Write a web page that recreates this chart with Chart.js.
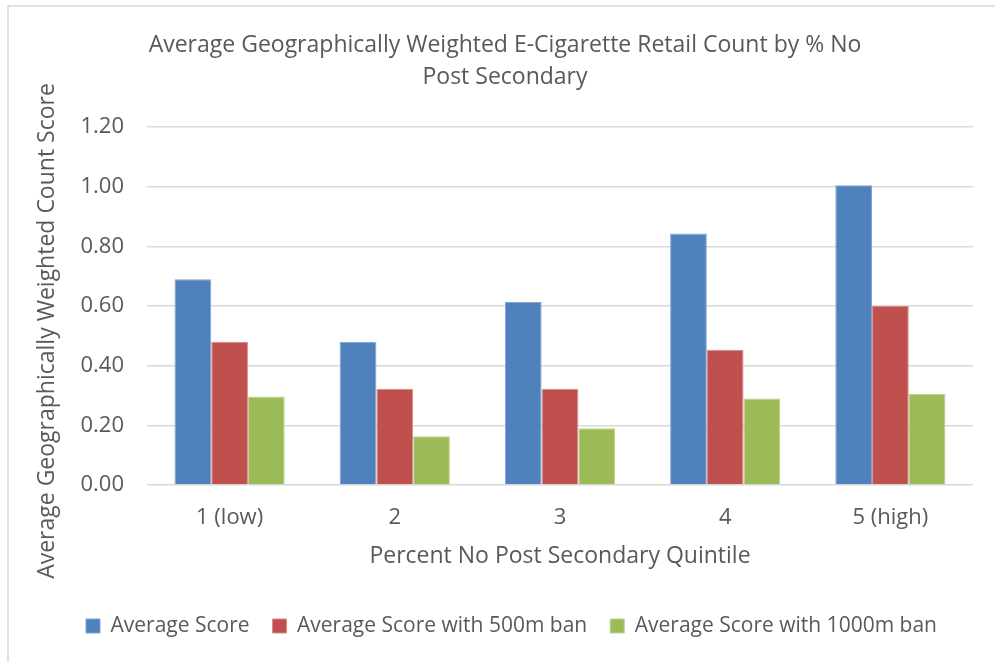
<!DOCTYPE html>
<html>
<head>
<meta charset="utf-8">
<script src="https://cdn.jsdelivr.net/npm/chart.js@4"></script>
<style>
  html, body { margin: 0; padding: 0; background: #ffffff; }
  #wrap { width: 995px; height: 662px; position: relative; }
</style>
</head>
<body>
<div id="wrap"><canvas id="c" width="995" height="662"></canvas></div>
<script>
const chartTitle = ["Average Geographically Weighted E-Cigarette Retail Count by % No", "Post Secondary"];
const yAxisTitle = "Average Geographically Weighted Count Score";
const xAxisTitle = "Percent No Post Secondary Quintile";
const categories = ["1 (low)", "2", "3", "4", "5 (high)"];
const seriesNames = ["Average Score", "Average Score with 500m ban", "Average Score with 1000m ban"];
const averageScore = [0.69, 0.48, 0.613, 0.843, 1.005];
const score500m = [0.48, 0.323, 0.323, 0.453, 0.60];
const score1000m = [0.297, 0.163, 0.19, 0.29, 0.305];
const yTicks = [0, 0.2, 0.4, 0.6, 0.8, 1.0, 1.2];

const TEXT = '#595959';
const FONT = "'Open Sans', 'DejaVu Sans', sans-serif";
const LEGEND_SIZE = 21;
const LEGEND_PAD = 23;

const decor = {
  id: 'decor',
  afterLayout(chart) {
    const lg = chart.legend;
    if (!lg || !lg.lineWidths) return;
    // horizontal: first legend box at x = 86
    const x0 = (lg.left + LEGEND_PAD + lg.right - lg.lineWidths[0]) / 2;
    const dx = 86 - x0;
    lg.left += dx; lg.right += dx;
    // vertical: legend items centred at y = 626
    const itemH = LEGEND_SIZE;
    const newTop = 626 - LEGEND_PAD - itemH / 2;
    const dy = newTop - lg.top;
    lg.top += dy; lg.bottom += dy;
  },
  beforeDraw(chart) {
    const ctx = chart.ctx;
    ctx.save();
    ctx.fillStyle = '#ffffff';
    ctx.fillRect(0, 0, chart.width, chart.height);
    ctx.strokeStyle = '#d9d9d9';
    ctx.lineWidth = 1.5;
    ctx.strokeRect(8, 6, 1200, 1200);
    ctx.restore();
  },
  afterDraw(chart) {
    const ctx = chart.ctx;
    const area = chart.chartArea;
    ctx.save();
    ctx.fillStyle = TEXT;
    ctx.font = "23px " + FONT;
    ctx.textAlign = 'center';
    ctx.textBaseline = 'middle';
    ctx.fillText(chartTitle[0], 505, 45);
    ctx.fillText(chartTitle[1], 505, 77);
    ctx.fillText(xAxisTitle, (area.left + area.right) / 2, 556);
    ctx.translate(47, 331);
    ctx.rotate(-Math.PI / 2);
    ctx.fillText(yAxisTitle, 0, 0);
    ctx.restore();
  }
};

new Chart(document.getElementById('c'), {
  type: 'bar',
  data: {
    labels: categories,
    datasets: [
      { label: seriesNames[0], data: averageScore, backgroundColor: '#4F81BD', borderColor: '#7FA3D2', borderWidth: 1 },
      { label: seriesNames[1], data: score500m, backgroundColor: '#C0504D', borderColor: '#D98A88', borderWidth: 1 },
      { label: seriesNames[2], data: score1000m, backgroundColor: '#9BBB59', borderColor: '#BCD48E', borderWidth: 1 }
    ]
  },
  options: {
    responsive: false,
    animation: false,
    devicePixelRatio: 1,
    layout: { padding: { left: 8, right: 22, top: 127, bottom: 63 } },
    datasets: { bar: { barPercentage: 1.0, categoryPercentage: 0.667 } },
    plugins: {
      title: { display: false },
      tooltip: { enabled: false },
      legend: {
        position: 'bottom',
        labels: {
          color: TEXT,
          font: { family: FONT, size: LEGEND_SIZE },
          boxWidth: 14, boxHeight: 14,
          padding: LEGEND_PAD
        }
      }
    },
    scales: {
      x: {
        afterFit(scale) { scale.height = 60; },
        grid: { display: false, drawTicks: false },
        border: { display: false },
        ticks: { color: TEXT, font: { family: FONT, size: 22 }, padding: 20 }
      },
      y: {
        min: 0, max: 1.2,
        afterFit(scale) { scale.width = 139; },
        afterBuildTicks(scale) { scale.ticks = yTicks.map(v => ({ value: v })); },
        grid: { color: '#d9d9d9', lineWidth: 1.5, drawTicks: false },
        border: { display: false },
        ticks: { color: TEXT, font: { family: FONT, size: 22 }, padding: 23, callback: v => Number(v).toFixed(2) }
      }
    }
  },
  plugins: [decor]
});
</script>
</body>
</html>
